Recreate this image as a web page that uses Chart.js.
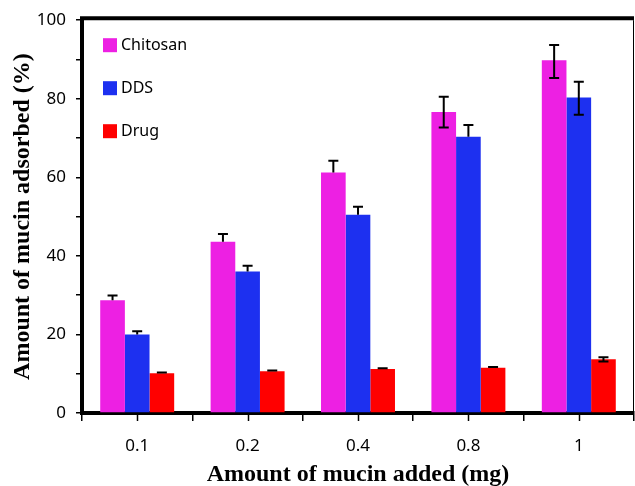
<!DOCTYPE html>
<html lang="en">
<head>
<meta charset="UTF-8">
<title>Mucin adsorption</title>
<script src="https://cdn.jsdelivr.net/npm/chart.js"></script>
<style>
body { margin: 0; background: #fff; }
.wrap { width: 635px; height: 486px; }
</style>
</head>
<body>
<div class="wrap"><canvas id="mucinChart"></canvas></div>
<script>
// mucin added (mg)
const doses = ['0.1', '0.2', '0.4', '0.8', '1'];

// % mucin adsorbed, with +/- error (0 = whisker not drawn)
const chitosan = [28.7, 43.6, 61.2, 76.6, 89.8];
const chitosanUp = [1.2, 2.0, 3.0, 3.9, 3.9];
const chitosanDown = [0, 0, 0, 3.9, 4.5];

const dds = [20.0, 36.0, 50.5, 70.3, 80.3];
const ddsUp = [0.8, 1.5, 2.0, 3.0, 4.0];
const ddsDown = [0, 0, 0, 0, 4.4];

const drug = [10.1, 10.6, 11.2, 11.5, 13.7];
const drugUp = [0.2, 0.2, 0.2, 0.2, 0.5];
const drugDown = [0, 0, 0, 0, 0.6];

const yTicks = [0, 20, 40, 60, 80, 100];

const tickFont = { family: 'Noto Sans', size: 17 };
const titleFont = { family: 'Liberation Serif', size: 24, weight: 'bold' };

// whiskers on top of the bars
const errorBars = {
  id: 'errorBars',
  afterDatasetsDraw(chart) {
    const ctx = chart.ctx;
    const y = chart.scales.y;
    ctx.save();
    ctx.strokeStyle = '#000';
    ctx.lineWidth = 2;
    chart.data.datasets.forEach((ds, i) => {
      const meta = chart.getDatasetMeta(i);
      meta.data.forEach((bar, j) => {
        const v = ds.data[j];
        const top = y.getPixelForValue(v + ds.errUp[j]);
        const bottom = ds.errDown[j] ? y.getPixelForValue(v - ds.errDown[j]) : y.getPixelForValue(v);
        ctx.beginPath();
        ctx.moveTo(bar.x, top);
        ctx.lineTo(bar.x, bottom);
        ctx.moveTo(bar.x - 5, top);
        ctx.lineTo(bar.x + 5, top);
        if (ds.errDown[j]) {
          ctx.moveTo(bar.x - 5, bottom);
          ctx.lineTo(bar.x + 5, bottom);
        }
        ctx.stroke();
      });
    });
    ctx.restore();
  }
};

// frame, centre ticks and the legend box inside the plot
const frame = {
  id: 'frame',
  afterDraw(chart) {
    const ctx = chart.ctx;
    const a = chart.chartArea;
    const x = chart.scales.x;
    ctx.save();
    ctx.strokeStyle = '#000';
    ctx.lineWidth = 4;
    ctx.beginPath();
    ctx.moveTo(a.left - 2, a.top - 2);
    ctx.lineTo(a.right, a.top - 2);
    ctx.stroke();
    ctx.lineWidth = 1;
    ctx.beginPath();
    ctx.moveTo(a.right - 0.5, a.top);
    ctx.lineTo(a.right - 0.5, a.bottom);
    ctx.stroke();

    ctx.lineWidth = 1.5;
    doses.forEach((d, i) => {
      const px = Math.round(x.getPixelForValue(i)) + 0.5;
      ctx.beginPath();
      ctx.moveTo(px, a.bottom);
      ctx.lineTo(px, a.bottom + 8);
      ctx.stroke();
    });

    ctx.font = '16px "Noto Sans"';
    ctx.textBaseline = 'middle';
    chart.data.datasets.forEach((ds, i) => {
      const cy = a.top + 25 + i * 43;
      ctx.fillStyle = ds.backgroundColor;
      ctx.fillRect(a.left + 21, cy - 7, 14, 14);
      ctx.fillStyle = '#000';
      ctx.fillText(ds.label, a.left + 39, cy);
    });
    ctx.restore();
  }
};

new Chart(document.getElementById('mucinChart'), {
  type: 'bar',
  data: {
    labels: doses,
    datasets: [
      { label: 'Chitosan', data: chitosan, errUp: chitosanUp, errDown: chitosanDown, backgroundColor: '#ed20e3' },
      { label: 'DDS', data: dds, errUp: ddsUp, errDown: ddsDown, backgroundColor: '#1d30f0' },
      { label: 'Drug', data: drug, errUp: drugUp, errDown: drugDown, backgroundColor: '#ff0000' }
    ]
  },
  options: {
    responsive: true,
    maintainAspectRatio: false,
    animation: false,
    layout: { padding: { top: 19, right: 1 } },
    datasets: { bar: { categoryPercentage: 0.67, barPercentage: 1 } },
    plugins: { legend: { display: false }, tooltip: { enabled: false } },
    scales: {
      x: {
        grid: { offset: true, drawOnChartArea: false, color: '#000', tickLength: 8, lineWidth: 1.5 },
        border: { color: '#000', width: 4 },
        ticks: { color: '#000', font: tickFont, padding: 15 },
        title: { display: true, text: 'Amount of mucin added (mg)', color: '#000', font: titleFont, padding: { top: 4, bottom: -3 } },
        afterFit(s) { s.height = 73; }
      },
      y: {
        min: 0,
        max: 100,
        grid: { drawOnChartArea: false, color: '#000', tickLength: 6, lineWidth: 1.5 },
        border: { color: '#000', width: 4 },
        ticks: {
          stepSize: 10,
          autoSkip: false,
          color: '#000',
          font: tickFont,
          padding: 10,
          callback: v => yTicks.includes(v) ? v : ''
        },
        title: { display: true, text: 'Amount of mucin adsorbed (%)', color: '#000', font: titleFont, padding: { top: 8, bottom: 4 } },
        afterFit(s) { s.width = 82; }
      }
    }
  },
  plugins: [errorBars, frame]
});
</script>
</body>
</html>
